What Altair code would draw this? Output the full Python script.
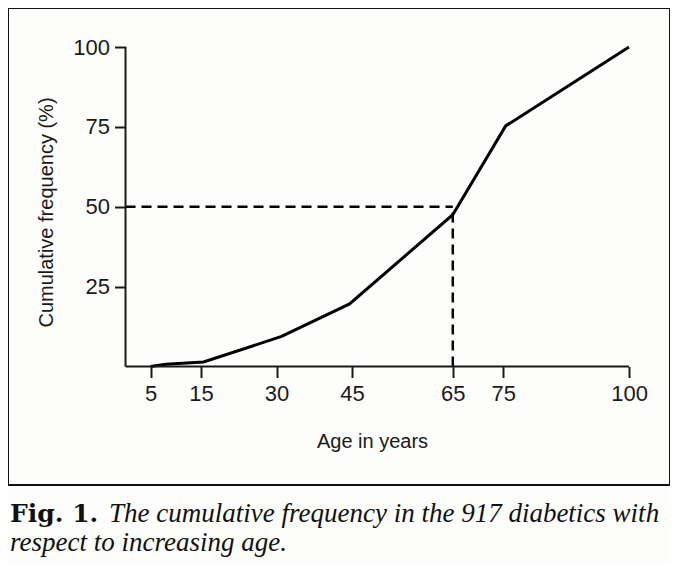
import altair as alt
import pandas as pd

# ---- data ----
ages = [5, 8, 15.5, 31, 44.5, 65, 75.5, 100]
cum_freq = [0, 0.7, 1.4, 9.4, 19.6, 47.5, 75.3, 100]
x_ticks = [5, 15, 30, 45, 65, 75, 100]
y_ticks = [25, 50, 75, 100]
median_pct = 50
median_age = 65
caption_bold = "Fig. 1."
caption_line1 = "The cumulative frequency in the 917 diabetics with"
caption_line2 = "respect to increasing age."

curve = pd.DataFrame({"age": ages, "cum": cum_freq})
axes_df = pd.DataFrame({"age": [0, 0], "x2": [100, 0], "cum": [0, 0], "y2": [0, 100]})
hdash = pd.DataFrame({"age": [0], "x2": [median_age], "cum": [median_pct]})
vdash = pd.DataFrame({"age": [median_age], "cum": [0], "y2": [median_pct]})

W, H = 662, 477
FONT = "Liberation Sans"
INK = "#1a1a1a"

xscale = alt.Scale(domain=[-23.34, 108.14], nice=False, zero=False)
yscale = alt.Scale(domain=[-37.09, 112.21], nice=False, zero=False)

x_axis = alt.Axis(
    values=x_ticks, domain=False, grid=False, offset=-118.5,
    tickSize=11, tickWidth=2, tickColor=INK,
    labelFont=FONT, labelFontSize=22, labelColor=INK, labelPadding=6,
    titleFont=FONT, titleFontSize=20, titleFontWeight="normal",
    titleColor=INK, titleX=364, titleY=81, titleBaseline="alphabetic",
    titleAlign="center",
)
y_axis = alt.Axis(
    values=y_ticks, domain=False, grid=False, offset=-117.5,
    tickSize=11, tickWidth=2, tickColor=INK,
    labelFont=FONT, labelFontSize=22, labelColor=INK, labelPadding=5,
    titleFont=FONT, titleFontSize=20,
    titleFontWeight="normal", titleColor=INK, titleAngle=-90,
    titleX=-73.5, titleY=204, titleAlign="center", titleBaseline="alphabetic",
)

X = alt.X("age:Q", scale=xscale, axis=x_axis, title="Age in years")
Y = alt.Y("cum:Q", scale=yscale, axis=y_axis, title="Cumulative frequency (%)")

line = alt.Chart(curve).mark_line(color="black", strokeWidth=3, strokeJoin="miter").encode(
    x=X, y=Y,
)

axis_lines = alt.Chart(axes_df).mark_rule(color=INK, strokeWidth=2).encode(
    x=X, x2="x2:Q", y=Y, y2="y2:Q",
)

h_line = alt.Chart(hdash).mark_rule(color="black", strokeWidth=2.5, strokeDash=[10, 6]).encode(
    x=X, x2="x2:Q", y=Y,
)
v_line = alt.Chart(vdash).mark_rule(color="black", strokeWidth=2.5, strokeDash=[10, 6]).encode(
    x=X, y=Y, y2="y2:Q",
)

SERIF = "Liberation Serif, Times New Roman, serif"

cap_b = alt.Chart(pd.DataFrame({"t": [caption_bold]})).mark_text(
    font="DejaVu Serif", fontWeight="bold", fontSize=25, align="left",
    baseline="alphabetic", color="#111",
).encode(text="t:N", x=alt.value(2), y=alt.value(514))

cap_1 = alt.Chart(pd.DataFrame({"t": [caption_line1]})).mark_text(
    font=SERIF, fontStyle="italic", fontSize=27, align="left",
    baseline="alphabetic", color="#111",
).encode(text="t:N", x=alt.value(101), y=alt.value(514))

cap_2 = alt.Chart(pd.DataFrame({"t": [caption_line2]})).mark_text(
    font=SERIF, fontStyle="italic", fontSize=27, align="left",
    baseline="alphabetic", color="#111",
).encode(text="t:N", x=alt.value(2), y=alt.value(543))

chart = alt.layer(line, h_line, v_line, axis_lines, cap_b, cap_1, cap_2).properties(
    width=W, height=H,
    autosize=alt.AutoSizeParams(type="none"),
    padding={"left": 0, "top": 0, "right": 0, "bottom": 80},
    background="#fdfdfb",
).configure_view(stroke="#111", strokeWidth=2)

chart.save("out.html", embed_options={"renderer": "svg", "actions": False})
